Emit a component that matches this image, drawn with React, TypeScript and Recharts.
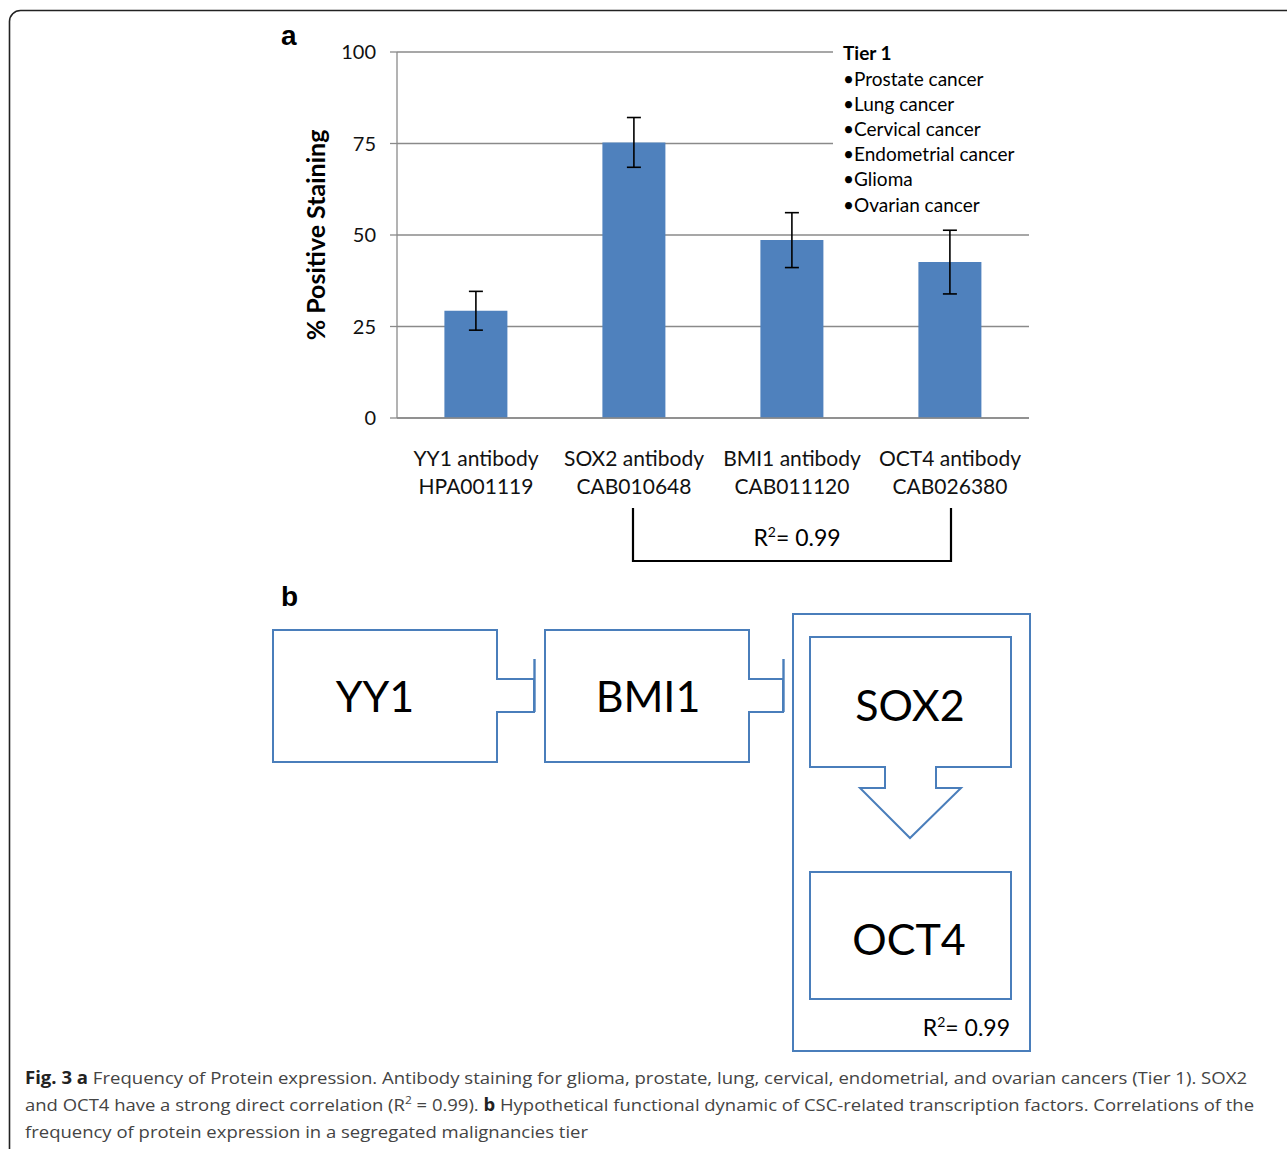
import React from 'react';
import { BarChart, Bar, XAxis, YAxis, CartesianGrid, ErrorBar } from 'recharts';

const categories = ['YY1 antibody', 'SOX2 antibody', 'BMI1 antibody', 'OCT4 antibody'];
const antibodyCodes = ['HPA001119', 'CAB010648', 'CAB011120', 'CAB026380'];
const positiveStaining = [29.3, 75.3, 48.6, 42.6];
const stainingError = [5.3, 6.8, 7.5, 8.7];
const yTicks = [0, 25, 50, 75, 100];
const bandTicks = [0, 1, 2, 3, 4];
const yTitle = '% Positive Staining';
const tierTitle = 'Tier 1';
const tierItems = ['Prostate cancer', 'Lung cancer', 'Cervical cancer', 'Endometrial cancer', 'Glioma', 'Ovarian cancer'];
const correlationLabel = '0.99';

const data = categories.map((c, i) => ({
  name: c,
  code: antibodyCodes[i],
  value: positiveStaining[i],
  err: stainingError[i],
}));

const FONT = 'Lato, "Open Sans", sans-serif';
const GRID = '#8a8a8a';
const BAR = '#4F81BD';
const BOX = '#4a7ebb';

const CatTick = (props: any) => {
  const { x, y, payload } = props;
  const row = data.find((d) => d.name === payload.value);
  return (
    <text x={x} y={y} textAnchor="middle" fontFamily={FONT} fontSize={21} fill="#111">
      <tspan x={x} dy={47}>{payload.value}</tspan>
      <tspan x={x} dy={28}>{row ? row.code : ''}</tspan>
    </text>
  );
};

const Overlay = () => (
  <svg width={1287} height={1149} style={{ position: 'absolute', left: 0, top: 0, pointerEvents: 'none' }}>
    {/* outer rounded frame */}
    <rect x={9.5} y={10.5} width={1320} height={1170} rx={11} ry={11} fill="none" stroke="#222" strokeWidth={1.6} />

    {/* panel letters */}
    <text x={281} y={45} fontFamily='"Liberation Sans", Arial, sans-serif' fontWeight="bold" fontSize={28} fill="#000">a</text>
    <text x={281} y={606} fontFamily='"Liberation Sans", Arial, sans-serif' fontWeight="bold" fontSize={28} fill="#000">b</text>

    {/* y axis title */}
    <text x={315} y={235} transform="rotate(-90 315 235)" textAnchor="middle" dominantBaseline="central"
      fontFamily={FONT} fontWeight="bold" fontSize={25} fill="#000">{yTitle}</text>

    {/* tier text box */}
    <rect x={833} y={40} width={200} height={186} fill="#fff" />
    <text x={843} y={60} fontFamily={FONT} fontWeight="bold" fontSize={19} fill="#000">{tierTitle}</text>
    {tierItems.map((t, i) => (
      <text key={t} x={843} y={85.5 + i * 25.2} fontFamily={FONT} fontSize={19} fill="#000">{'\u2022' + t}</text>
    ))}

    {/* correlation bracket */}
    <path d="M633,508 V561 H951 V508" fill="none" stroke="#000" strokeWidth={2.2} />
    <text x={797} y={546} textAnchor="middle" fontFamily={FONT} fontSize={23} fill="#000">
      R<tspan dy={-9} fontSize={14}>2</tspan><tspan dy={9}>{'= ' + correlationLabel}</tspan>
    </text>

    {/* panel b diagram */}
    <g fill="none" stroke={BOX} strokeWidth={2}>
      <path d="M273,630 H497 V679 H534 V712 H497 V762 H273 Z" fill="#fff" />
      <line x1={534.5} y1={659} x2={534.5} y2={712} strokeWidth={2.4} />
      <path d="M545,630 H749 V679 H783 V712 H749 V762 H545 Z" fill="#fff" />
      <line x1={783.5} y1={659} x2={783.5} y2={712} strokeWidth={2.4} />
      <rect x={793} y={614} width={237} height={437} />
      <path d="M810,637 H1011 V767 H936 V788 H961 L910,838 L860,788 H885 V767 H810 Z" />
      <rect x={810} y={872} width={201} height={127} />
    </g>
    <g fontFamily={FONT} fontSize={43} fill="#000" textAnchor="middle">
      <text x={375} y={712}>YY1</text>
      <text x={648} y={712}>BMI1</text>
      <text x={910} y={721}>SOX2</text>
      <text x={909} y={955}>OCT4</text>
    </g>
    <text x={1010} y={1036} textAnchor="end" fontFamily={FONT} fontSize={23} fill="#000">
      R<tspan dy={-9} fontSize={14}>2</tspan><tspan dy={9}>{'= ' + correlationLabel}</tspan>
    </text>

    {/* caption */}
    <g fontFamily='"Open Sans", sans-serif' fontSize={17} fill="#444">
      <text x={25} y={1084} textLength={1222} lengthAdjust="spacingAndGlyphs">
        <tspan fontWeight="bold" fill="#222">Fig. 3 a</tspan>
        <tspan> Frequency of Protein expression. Antibody staining for glioma, prostate, lung, cervical, endometrial, and ovarian cancers (Tier 1). SOX2</tspan>
      </text>
      <text x={25} y={1111} textLength={1229} lengthAdjust="spacingAndGlyphs">
        <tspan>and OCT4 have a strong direct correlation (R</tspan>
        <tspan dy={-7} fontSize={11}>2</tspan>
        <tspan dy={7}> = 0.99). </tspan>
        <tspan fontWeight="bold" fill="#222">b</tspan>
        <tspan> Hypothetical functional dynamic of CSC-related transcription factors. Correlations of the</tspan>
      </text>
      <text x={25} y={1138} textLength={563} lengthAdjust="spacingAndGlyphs">
        frequency of protein expression in a segregated malignancies tier
      </text>
    </g>
  </svg>
);

export default function App() {
  return (
    <div style={{ position: 'absolute', left: 0, top: 0, width: 1287, height: 1149, background: '#fff', overflow: 'hidden' }}>
      <div style={{ position: 'absolute', left: 0, top: 0 }}>
        <BarChart
          width={1287}
          height={600}
          data={data}
          margin={{ top: 52, right: 258, bottom: 180, left: 337 }}
          barCategoryGap="30%"
        >
          <CartesianGrid horizontal vertical={false} stroke={GRID} strokeWidth={1.3} />
          <XAxis
            xAxisId="band"
            type="number"
            domain={[0, 4]}
            ticks={bandTicks}
            tick={false}
            tickSize={7}
            height={1}
            axisLine={{ stroke: GRID, strokeWidth: 1.3 }}
            tickLine={{ stroke: GRID, strokeWidth: 1.3 }}
          />
          <XAxis
            xAxisId="cat"
            dataKey="name"
            type="category"
            height={1}
            axisLine={false}
            tickLine={false}
            tickSize={0}
            tickMargin={0}
            interval={0}
            tick={<CatTick />}
          />
          <YAxis
            domain={[0, 100]}
            ticks={yTicks}
            width={60}
            tickSize={7}
            tickMargin={14}
            axisLine={{ stroke: GRID, strokeWidth: 1.3 }}
            tickLine={{ stroke: GRID, strokeWidth: 1.3 }}
            tick={{ fontFamily: FONT, fontSize: 20, fill: '#111' }}
          />
          <Bar xAxisId="cat" dataKey="value" fill={BAR} isAnimationActive={false}>
            <ErrorBar dataKey="err" width={7} stroke="#000" strokeWidth={1.6} direction="y" />
          </Bar>
        </BarChart>
      </div>
      <Overlay />
    </div>
  );
}
